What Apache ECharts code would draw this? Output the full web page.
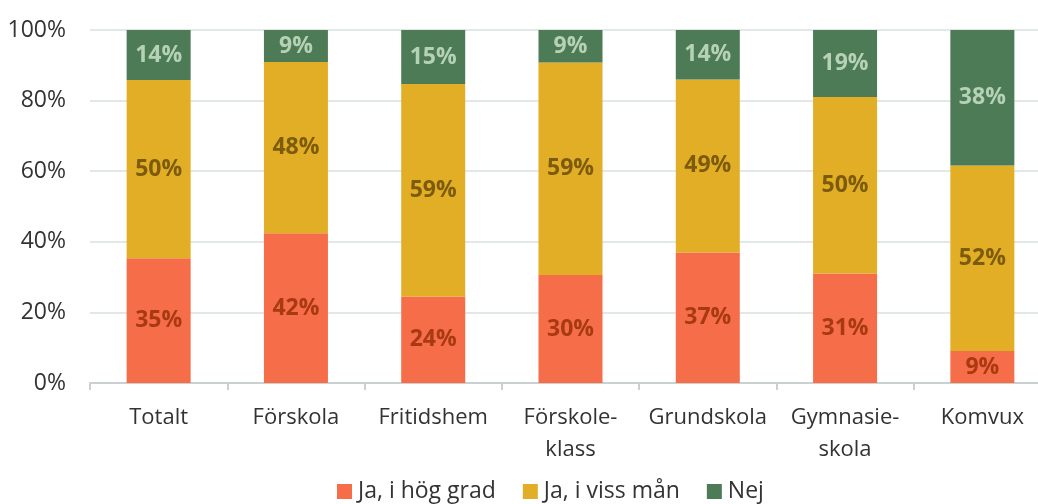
<!DOCTYPE html>
<html>
<head>
<meta charset="utf-8">
<script src="https://cdn.jsdelivr.net/npm/echarts@6/dist/echarts.min.js"></script>
<style>
  html, body { margin: 0; padding: 0; background: #fff; }
  #chart { width: 1038px; height: 504px; }
</style>
</head>
<body>
<div id="chart"></div>
<script>
// categories and values (percent as printed on the bars)
var categories = ['Totalt', 'Förskola', 'Fritidshem', 'Förskole-\nklass', 'Grundskola', 'Gymnasie-\nskola', 'Komvux']
var hogGrad = [35, 42, 24, 30, 37, 31, 9]
var vissMan = [50, 48, 59, 59, 49, 50, 52]
var nej = [14, 9, 15, 9, 14, 19, 38]
var yTicks = [0, 20, 40, 60, 80, 100]

var font = '"Open Sans", "Noto Sans", sans-serif'

// 100% stacked: bar heights are shares of each category's total
var totals = categories.map(function (c, i) {
  return hogGrad[i] + vissMan[i] + nej[i]
})
function share(arr) {
  return arr.map(function (v, i) {
    return { value: v / totals[i] * 100, raw: v }
  })
}

function makeSeries(name, arr, color, labelColor) {
  return {
    name: name,
    type: 'bar',
    stack: 'all',
    barWidth: 64,
    data: share(arr),
    itemStyle: { color: color },
    label: {
      show: true,
      position: 'inside',
      fontFamily: font,
      fontSize: 23,
      fontWeight: 'bold',
      color: labelColor,
      formatter: function (p) { return p.data.raw + '%' }
    }
  }
}

var chart = echarts.init(document.getElementById('chart'))
chart.setOption({
  animation: false,
  textStyle: { fontFamily: font },
  // plot runs past the right edge, as in the cropped original
  grid: {
    top: 30,
    left: 90,
    width: 961,
    bottom: 121,
    outerBoundsMode: 'none'
  },
  legend: {
    bottom: -4,
    left: 332,
    itemWidth: 15,
    itemHeight: 15,
    itemGap: 27,
    icon: 'rect',
    textStyle: { fontSize: 23, color: '#333', fontFamily: font, padding: [0, 0, 0, 1] },
    data: ['Ja, i hög grad', 'Ja, i viss mån', 'Nej']
  },
  xAxis: {
    type: 'category',
    data: categories,
    axisLine: { lineStyle: { color: '#c9d1d3', width: 2 } },
    axisTick: { show: true, length: 7, lineStyle: { color: '#c9d1d3', width: 2 } },
    axisLabel: {
      interval: 0,
      color: '#333',
      fontSize: 22,
      margin: 19,
      lineHeight: 32,
      fontFamily: font
    }
  },
  yAxis: {
    type: 'value',
    min: yTicks[0],
    max: yTicks[yTicks.length - 1],
    interval: 20,
    axisLabel: {
      color: '#333',
      fontSize: 23,
      margin: 24,
      fontFamily: font,
      formatter: '{value}%'
    },
    axisLine: { show: false },
    axisTick: { show: false },
    splitLine: { lineStyle: { color: '#d9dfe0', width: 1.5 } }
  },
  series: [
    makeSeries('Ja, i hög grad', hogGrad, '#f66d49', '#a83a12'),
    makeSeries('Ja, i viss mån', vissMan, '#e2ae25', '#7c5b0c'),
    makeSeries('Nej', nej, '#4d7b56', '#b6d2b6')
  ]
})
</script>
</body>
</html>
